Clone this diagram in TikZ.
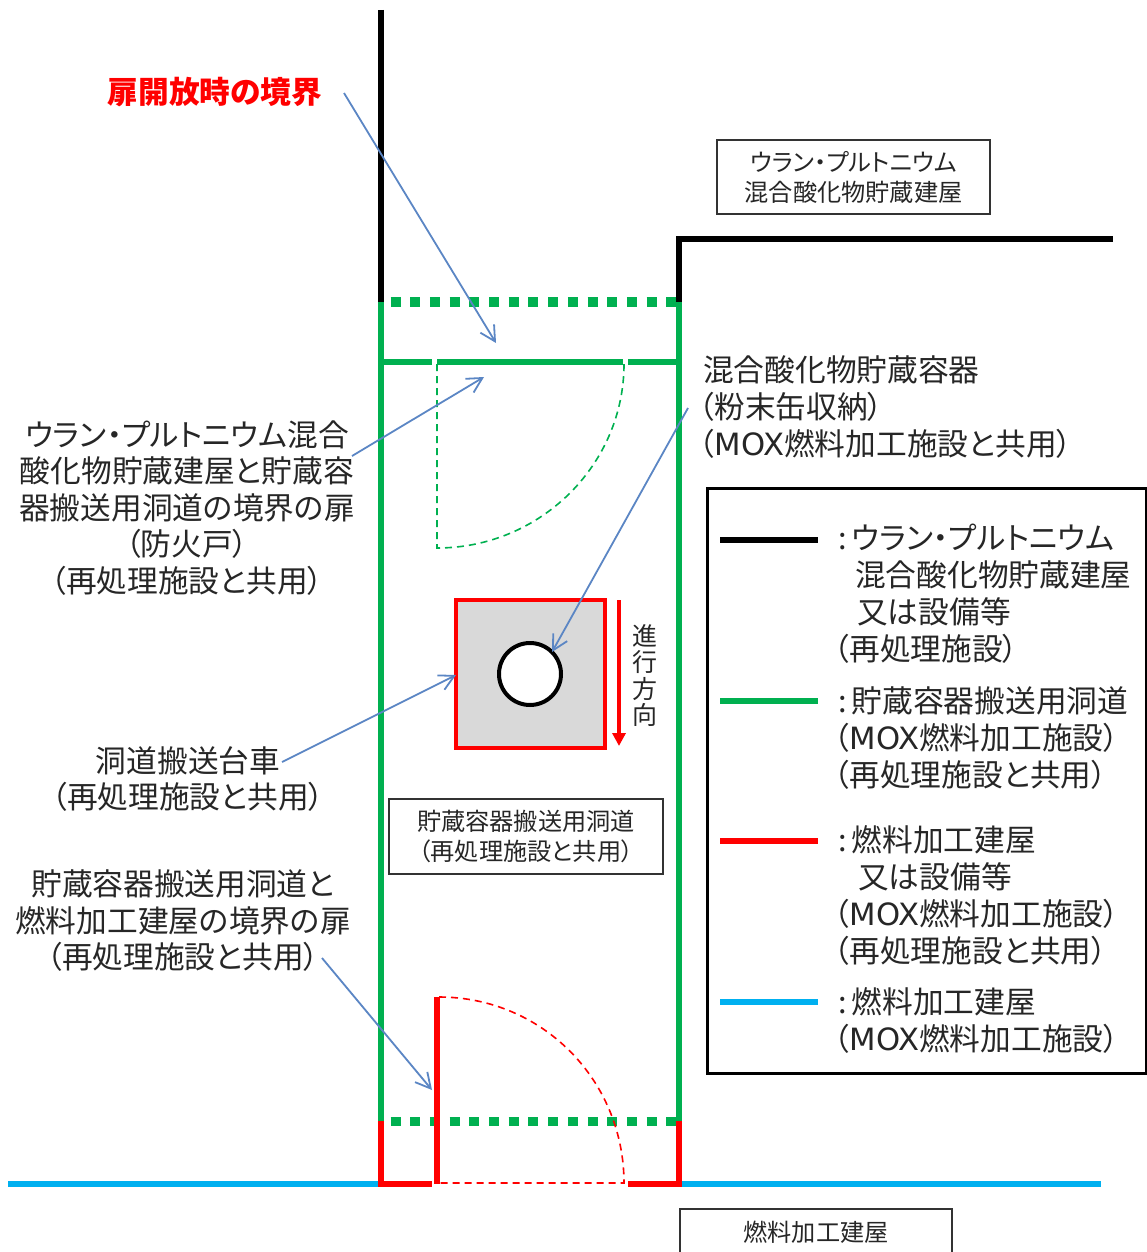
\documentclass[tikz,border=0pt]{standalone}
\usepackage{fontspec}
\setmainfont{Noto Sans CJK JP}[RawFeature=+palt]
\newfontfamily\latf{DejaVu Sans}
\newcommand{\mox}{{\latf MOX}}
\usetikzlibrary{arrows.meta}
\definecolor{gr}{HTML}{00B050}
\definecolor{rd}{HTML}{FF0000}
\definecolor{cy}{HTML}{00B0F0}
\definecolor{bl}{HTML}{5B86C4}
\tikzset{
 x=1pt,y=-1pt,
 big/.style={inner sep=0pt,font=\fontsize{30.7}{36.5}\selectfont,align=center,text=black!85},
 legtext/.style={inner sep=0pt,font=\fontsize{30.7}{37}\selectfont,align=left,anchor=west,text=black!85},
 boxlabel/.style={draw=black!80,line width=1.2pt,inner sep=0pt,font=\fontsize{24.2}{30}\selectfont,align=center,text=black!85},
 callout/.style={draw=bl,line width=1.8pt,-{Straight Barb[length=15pt,width=16pt,line width=1.8pt]}},
 wallblack/.style={draw=black,line width=6.5pt},
 wallgreen/.style={draw=gr,line width=6pt},
 wallred/.style={draw=rd,line width=6pt},
 wallblue/.style={draw=cy,line width=6pt},
 dotgreen/.style={draw=gr,line width=9.5pt,dash pattern=on 10pt off 9.7pt},
 doorgreen/.style={draw=gr,line width=5.5pt},
 opengreen/.style={draw=gr,line width=1.6pt,dash pattern=on 7pt off 5pt},
 openred/.style={draw=rd,line width=1.6pt,dash pattern=on 7pt off 5pt},
 legline/.style={line width=6pt},
}
\begin{document}
\begin{tikzpicture}
\useasboundingbox (0,0) rectangle (1147,1252);
% walls
\draw[wallblue] (8,1184) -- (381,1184);
\draw[wallblue] (679,1184) -- (1101,1184);
\draw[wallblack] (381,10) -- (381,302);
\draw[wallblack] (679,302) -- (679,239) -- (1113,239);
\draw[wallgreen] (381,302) -- (381,1121);
\draw[wallgreen] (679,302) -- (679,1121);
\draw[dotgreen] (390.5,302) -- (680,302);
\draw[dotgreen] (390.5,1121.5) -- (680,1121.5);
\draw[doorgreen] (381,362) -- (432,362);
\draw[doorgreen] (437,362) -- (623,362);
\draw[doorgreen] (628,362) -- (679,362);
\draw[opengreen] (437,364) -- (437,548) .. controls (540,548) and (624,465) .. (624,364);
\draw[wallred] (381,1121) -- (381,1184) -- (432,1184);
\draw[wallred] (628,1184) -- (679,1184) -- (679,1121);
\draw[wallred] (437,997) -- (437,1184);
\draw[openred] (439,997) .. controls (542,997) and (624,1080) .. (624,1183) -- (440,1183);
% cart
\node[draw=rd,line width=4.5pt,fill=black!15,minimum width=149pt,minimum height=148pt,inner sep=0pt] (cart) at (530.5,674) {};
\node[circle,draw=black,line width=4pt,fill=white,minimum size=62pt,inner sep=0pt] (can) at (530,674) {};
\coordinate (dirA) at (619,600);
\coordinate (dirB) at (619,746);
\draw[draw=rd,line width=3.5pt,-{Triangle[length=13pt,width=13pt]}] (dirA) -- (dirB);
\node[inner sep=0pt,font=\fontsize{25}{26.5}\selectfont,align=center,text=black!85] (dirtext) at (645,675.5) {進\\行\\方\\向};
% boxes
\node[boxlabel,minimum width=273pt,minimum height=74pt] (boxA) at (853.5,177) {ウラン・プルトニウム\\混合酸化物貯蔵建屋};
\node[boxlabel,minimum width=274pt,minimum height=75pt] (boxB) at (526,836.5) {貯蔵容器搬送用洞道\\（再処理施設と共用）};
\draw[draw=black!80,line width=1.2pt] (680,1252) -- (680,1209) -- (952,1209) -- (952,1252);
\node[inner sep=0pt,font=\fontsize{24.2}{30}\selectfont,text=black!85] (boxC) at (816,1232) {燃料加工建屋};
% labels
\node[big,font=\fontsize{30.7}{37}\selectfont\bfseries,text=rd] (lbOpen) at (215,92) {扉開放時の境界};
\node[big] (lbDoorA) at (187,508) {ウラン・プルトニウム混合\\酸化物貯蔵建屋と貯蔵容\\器搬送用洞道の境界の扉\\（防火戸）\\（再処理施設と共用）};
\node[big] (lbCart) at (188,779) {洞道搬送台車\\（再処理施設と共用）};
\node[big] (lbDoorB) at (183,921) {貯蔵容器搬送用洞道と\\燃料加工建屋の境界の扉\\（再処理施設と共用）};
\node[legtext] (lbCont) at (699,407) {\hspace*{4pt}混合酸化物貯蔵容器\\（粉末缶収納）\\（\mox{}燃料加工施設と共用）};
% callouts
\coordinate (a1) at (344,93); \coordinate (a2) at (496,343);
\coordinate (b1) at (352,456); \coordinate (b2) at (484,377);
\coordinate (c1) at (688,408); \coordinate (c2) at (552,652);
\coordinate (d1) at (282,762); \coordinate (d2) at (456,675);
\coordinate (e1) at (322,958); \coordinate (e2) at (432,1090);
\draw[callout] (a1) -- (a2);
\draw[callout] (b1) -- (b2);
\draw[callout] (c1) -- (c2);
\draw[callout] (d1) -- (d2);
\draw[callout] (e1) -- (e2);
% legend
\node[draw=black,line width=3pt,minimum width=439pt,minimum height=585pt,inner sep=0pt] (legend) at (926.5,780.5) {};
\coordinate (k1a) at (720,540); \coordinate (k1b) at (818,540);
\coordinate (k2a) at (720,701); \coordinate (k2b) at (818,701);
\coordinate (k3a) at (720,841); \coordinate (k3b) at (818,841);
\coordinate (k4a) at (720,1002); \coordinate (k4b) at (818,1002);
\draw[legline,draw=black] (k1a) -- (k1b);
\draw[legline,draw=gr] (k2a) -- (k2b);
\draw[legline,draw=rd] (k3a) -- (k3b);
\draw[legline,draw=cy] (k4a) -- (k4b);
\node[legtext] (t1) at (834,594) {\hspace*{4pt}:\,ウラン・プルトニウム\\\hspace*{21pt}混合酸化物貯蔵建屋\\\hspace*{23pt}又は設備等\\（再処理施設）};
\node[legtext] (t2) at (834,738) {\hspace*{4pt}:\,貯蔵容器搬送用洞道\\（\mox{}燃料加工施設）\\（再処理施設と共用）};
\node[legtext] (t3) at (834,895) {\hspace*{4pt}:\,燃料加工建屋\\\hspace*{24pt}又は設備等\\（\mox{}燃料加工施設）\\（再処理施設と共用）};
\node[legtext] (t4) at (834,1020) {\hspace*{4pt}:\,燃料加工建屋\\（\mox{}燃料加工施設）};
\end{tikzpicture}
\end{document}
